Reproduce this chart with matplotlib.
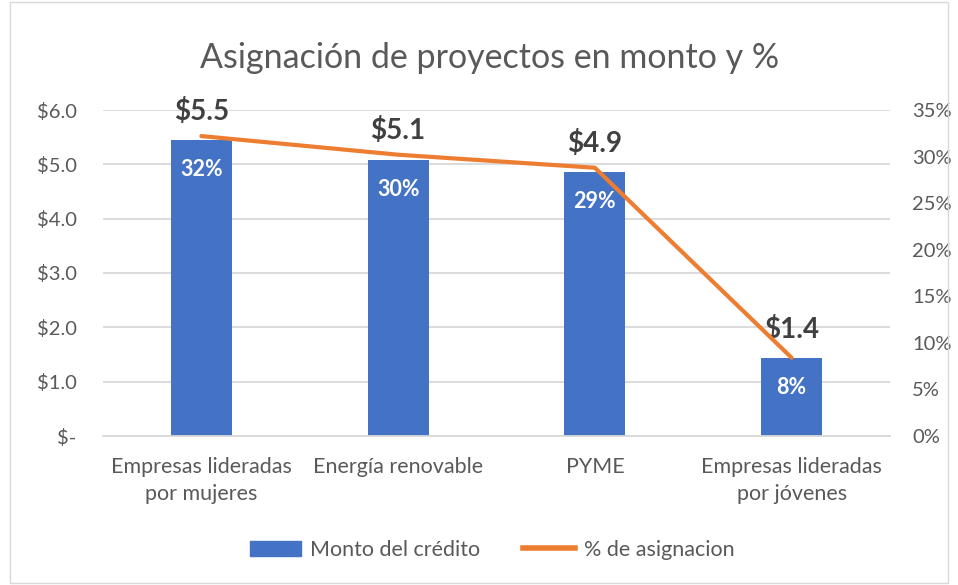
import matplotlib
matplotlib.use("Agg")
import matplotlib.pyplot as plt
from matplotlib.patches import Rectangle
from matplotlib.lines import Line2D
from matplotlib.ticker import FuncFormatter, MultipleLocator

plt.rcParams['font.family'] = ['Lato', 'DejaVu Sans']

categories = ["Empresas lideradas\npor mujeres", "Energía renovable", "PYME",
              "Empresas lideradas\npor jóvenes"]
monto = [5.44, 5.08, 4.85, 1.43]
monto_labels = ["$5.5", "$5.1", "$4.9", "$1.4"]
pct = [0.322, 0.302, 0.288, 0.084]
pct_labels = ["32%", "30%", "29%", "8%"]
left_ticks = [0, 1, 2, 3, 4, 5, 6]
left_tick_labels = ["$-", "$1.0", "$2.0", "$3.0", "$4.0", "$5.0", "$6.0"]

W, H = 958, 585
fig = plt.figure(figsize=(W / 100, H / 100), dpi=100)
ax = fig.add_axes([103 / W, 1 - 436 / H, 787 / W, 326 / H])
ax2 = ax.twinx()

blue = "#4472C4"
orange = "#ED7D31"
grid = "#D9D9D9"
tickc = "#595959"

x = list(range(len(categories)))
ax.bar(x, monto, width=0.31, color=blue, zorder=2)
ax.set_xlim(-0.5, len(categories) - 0.5)
ax.set_ylim(0, 6)
ax.set_yticks(left_ticks)
ax.set_yticklabels(left_tick_labels)
ax.grid(axis='y', color=grid, linewidth=1.3, zorder=0)
ax.set_axisbelow(True)
ax.set_xticks(x)
ax.set_xticklabels(categories, fontsize=15.5, color=tickc, linespacing=1.45)
ax.tick_params(axis='y', length=0, labelsize=14.5, labelcolor=tickc, pad=19)
ax.tick_params(axis='x', length=0, labelcolor=tickc, pad=15)
for s in ax.spines.values():
    s.set_visible(False)
ax.spines['bottom'].set_visible(True)
ax.spines['bottom'].set_color(grid)
ax.spines['bottom'].set_linewidth(1.3)

ax2.plot(x, pct, color=orange, linewidth=3.0, solid_capstyle='round', zorder=3)
ax2.set_ylim(0, 0.35)
ax2.yaxis.set_major_locator(MultipleLocator(0.05))
ax2.yaxis.set_major_formatter(FuncFormatter(lambda v, p: f"{v*100:.0f}%"))
ax2.tick_params(axis='y', length=0, labelsize=14.5, labelcolor=tickc, pad=16)
for s in ax2.spines.values():
    s.set_visible(False)

for xi, v, lab in zip(x, monto, monto_labels):
    ax.annotate(lab, (xi, v), xytext=(0, 21), textcoords='offset points',
                ha='center', va='center', fontsize=20, fontweight='bold', color="#404040", zorder=5)
for xi, v, lab in zip(x, monto, pct_labels):
    ax.annotate(lab, (xi, v), xytext=(0, -21), textcoords='offset points',
                ha='center', va='center', fontsize=15.5, fontweight='bold', color="white", zorder=5)

fig.text(490 / W, 1 - 58 / H, "Asignación de proyectos en monto y %", ha='center', va='center',
         fontsize=24.5, color="#595959")

handles = [Rectangle((0, 0), 1, 1, color=blue), Line2D([0], [0], color=orange, linewidth=4)]
fig.legend(handles, ["Monto del crédito", "% de asignacion"], loc='center',
           bbox_to_anchor=(492 / W, 1 - 550 / H), ncol=2, frameon=False, fontsize=15.5,
           labelcolor=tickc, handlelength=2.4, handleheight=0.7, columnspacing=2.0, handletextpad=0.4)

fig.patches.append(Rectangle((10 / W, 2 / H), 1 - 20 / W, 1 - 4 / H, transform=fig.transFigure,
                             fill=False, edgecolor="#D9D9D9", linewidth=1))

fig.savefig("out.png", dpi=100)
